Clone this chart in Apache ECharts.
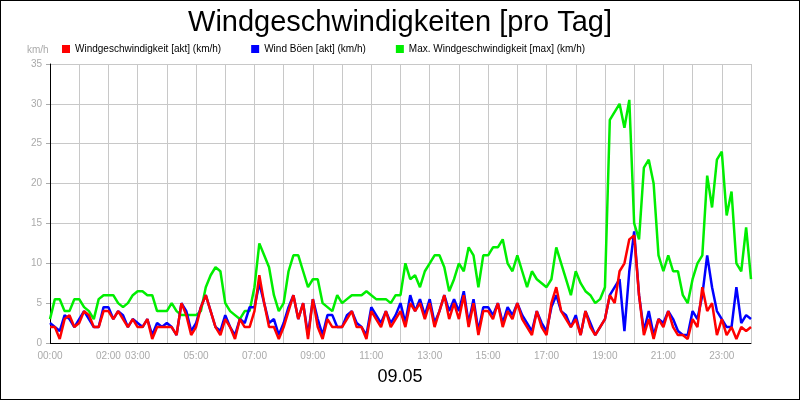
<!DOCTYPE html>
<html><head><meta charset="utf-8">
<script src="https://cdn.jsdelivr.net/npm/echarts@6/dist/echarts.min.js"></script>
<style>body{margin:0}#c{width:798px;height:398px;border:1px solid #000}</style>
</head><body><div id="c"></div>
<script>
// 10-min values, one row per hour
var speed = [
 2,2,0.5,3,3.5,2, 2.5,4,3.5,2,2,4, 4,3,4,3,2,3, 2,2,3,0.5,2,2,
 2,2,1,5,3.5,1, 2,4.5,6,4,2,1, 3,2,0.5,3,2,2, 4,8.5,5,2,2,0.5,
 2,4,6,3,5,0.5, 5.5,2,0.5,3,2,2, 2,3,4,2,2,0.5, 4,3,2,4,2,3,
 4,2,5,4,5,3, 5,2,4,6,3,5, 3,6,2,5,1,4, 4,3,5,2,4,3,
 5,3,2,1,4,2, 1,5,7,4,3,2, 3,1,4,2,1,2, 3,6,5,9,10,13,
 13.5,6,1,3,0.5,3, 2,4,2,1,1,0.5, 3,2,7,4,5,1, 3,1,2,0.5,2,1.5, 2
];
var gusts = [
 2.5,2,1.5,3.5,3,2, 3,4,3,2,2,4.5, 4.5,3,4,3.5,2,3, 2.5,2,3,1,2.5,2,
 2.5,2,1,5,4,1.5, 2.5,4.5,6,4,2,1.5, 3.5,2,1,3,2.5,4.5, 4.5,7.5,5,2.5,3,1,
 2.5,4.5,6,3,5,1, 5.5,3,1,3.5,3.5,2, 2,3.5,4,2.5,2,1, 4.5,3.5,2.5,4,2.5,3.5,
 5,2.5,6,4,5.5,3.5, 5.5,2.5,4,6,4,5.5, 4,6.5,2.5,5.5,1.5,4.5, 4.5,3.5,5,2.5,4.5,3.5,
 5,3.5,2.5,1.5,4,2.5, 1.5,4.5,6,4,3.5,2, 3.5,1,4,2.5,1,2, 3,6,7,8,1.5,9,
 14,6,1.5,4,1,3, 2.5,4,3,1.5,1,1, 4,3,6,11,7,4, 3,2,2,7,2.5,3.5, 3
];
var maxSpeed = [
 3,5.5,5.5,4,4,5.5, 5.5,4.5,4,3,5.5,6, 6,6,5,4.5,5,6, 6.5,6.5,6,6,4,4,
 4,5,4,3.5,3.5,3.5, 3.5,4,7,8.5,9.5,9, 5,4,3.5,3,4,4, 7,12.5,11,9.5,6,4,
 5,9,11,11,9,7, 8,8,5,4.5,4,6, 5,5.5,6,6,6,6.5, 6,5.5,5.5,5.5,5,6,
 6,10,8,8.5,7,9, 10,11,11,9.5,6.5,8, 10,9,12,11,7,11, 11,12,12,13,10,9,
 11,9,7,9,8,7.5, 7,8,12,10,8,6, 9,7.5,6.5,6,5,5.5, 7,28,29,30,27,30.5,
 15,13,22,23,20,11, 9,11,9,9,6,5, 8,10,11,21,17,23, 24,16,19,10,9,14.5, 8
];
var labelHours = [0,2,3,5,7,9,11,13,15,17,19,21,23];
var names = ['Windgeschwindigkeit [akt] (km/h)', 'Wind Böen [akt] (km/h)', 'Max. Windgeschwindigkeit [max] (km/h)'];

var times = [];
for (var i = 0; i <= 144; i++) {
  var h = Math.floor(i / 6), m = (i % 6) * 10;
  times.push((h < 10 ? '0' : '') + h + ':' + (m < 10 ? '0' : '') + m);
}

var chart = echarts.init(document.getElementById('c'));
function ser(name, data, color, z) {
  return {name: name, type: 'line', data: data, symbol: 'none', z: z,
    lineStyle: {color: color, width: 2.5}, itemStyle: {color: color}};
}
chart.setOption({
  animation: false,
  title: {text: 'Windgeschwindigkeiten [pro Tag]', left: 'center', top: 2,
    textStyle: {fontFamily: 'Liberation Sans', fontWeight: 'normal', fontSize: 29, color: '#000'}},
  legend: {data: names, top: 38, left: 56, itemWidth: 8, itemHeight: 8, itemGap: 30, icon: 'rect',
    textStyle: {fontSize: 10, color: '#000', fontFamily: 'Liberation Sans'}},
  graphic: [
    {type: 'text', left: 26, top: 44, style: {text: 'km/h', fill: '#aaa', fontSize: 10, fontFamily: 'Liberation Sans'}},
    {type: 'text', left: 'center', top: 367, style: {text: '09.05', fill: '#000', fontSize: 18, fontFamily: 'Liberation Sans'}}
  ],
  grid: {left: 49, right: 48, top: 63, bottom: 56},
  xAxis: {type: 'category', data: times, boundaryGap: false,
    axisLine: {lineStyle: {color: '#000'}},
    axisTick: {show: false},
    axisLabel: {color: '#aaa', fontSize: 10, fontFamily: 'Liberation Sans', interval: function (idx) {
      return idx % 6 === 0 && labelHours.indexOf(idx / 6) >= 0; }},
    splitLine: {show: true, interval: function (idx) { return idx % 6 === 0; },
      lineStyle: {color: '#c8c8c8'}}},
  yAxis: {type: 'value', min: 0, max: 35, interval: 5,
    axisLine: {show: true, lineStyle: {color: '#000'}},
    axisTick: {show: true, length: 4, lineStyle: {color: '#aaa'}},
    axisLabel: {color: '#aaa', fontSize: 10, fontFamily: 'Liberation Sans'},
    splitLine: {lineStyle: {color: '#c8c8c8'}}},
  series: [
    ser(names[2], maxSpeed, '#00ee00', 2),
    ser(names[1], gusts, '#0000ff', 3),
    ser(names[0], speed, '#ff0000', 4)
  ]
});
</script></body></html>
